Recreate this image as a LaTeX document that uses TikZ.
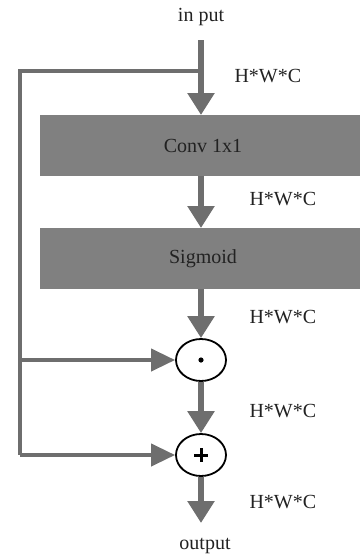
\documentclass[tikz,border=0pt]{standalone}
\usepackage{fontspec}
\setmainfont{Liberation Serif}
\usetikzlibrary{arrows.meta,shapes.geometric,calc}
\definecolor{flow}{HTML}{6E6E6E}
\definecolor{blockgray}{HTML}{808080}
\definecolor{ink}{HTML}{222222}
\begin{document}
\begin{tikzpicture}[x=1pt,y=-1pt,
  every node/.style={font=\fontsize{20}{24}\selectfont, text=ink},
  flowline/.style={draw=flow, line width=6pt,
    -{Triangle[width=26pt,length=22pt]}},
  skipline/.style={draw=flow, line width=4pt, line join=miter},
  skiparrow/.style={skipline, -{Triangle[width=22pt,length=24pt]}},
  block/.style={fill=blockgray, minimum width=320pt, minimum height=61pt,
    inner sep=0pt, anchor=north west},
  opnode/.style={ellipse, draw=black, line width=1.8pt, fill=white,
    minimum width=50pt, minimum height=42pt, inner sep=0pt},
  dimlabel/.style={anchor=west}]
  \useasboundingbox (0,0) rectangle (360,558);

  % blocks
  \node[block] (conv) at (40,115) {};
  \node at (203,146) (convtxt) {Conv 1x1};
  \node[block] (sig) at (40,228) {};
  \node at (203,259) (sigtxt) {Sigmoid};

  % element-wise operators
  \node[opnode] (mul) at (201,360) {};
  \node[opnode] (add) at (201,455) {};
  \fill[black] (mul.center) circle (2.6pt);
  \draw[black, line width=3pt] ($(add.center)+(-7,0)$) -- ($(add.center)+(7,0)$)
    ($(add.center)+(0,-7)$) -- ($(add.center)+(0,7)$);

  % texts
  \node (in) at (201,17) {in put};
  \node (out) at (205,546) {output};
  \node[dimlabel] (l1) at (231,76) {H*W*C};
  \node[dimlabel] (l2) at (246,199) {H*W*C};
  \node[dimlabel] (l3) at (246,317) {H*W*C};
  \node[dimlabel] (l4) at (246,411) {H*W*C};
  \node[dimlabel] (l5) at (246,502) {H*W*C};

  % main path
  \coordinate (src) at (201,40);
  \coordinate (split) at (201,71);
  \coordinate (skip) at (20,71);
  \coordinate (sink) at (201,523);
  \draw[flowline] (src) -- (conv.north -| src);
  \draw[flowline] (conv.south -| src) -- (sig.north -| src);
  \draw[flowline] (sig.south -| src) -- (mul.north);
  \draw[flowline] (mul.south) -- (add.north);
  \draw[flowline] (add.south) -- (sink);

  % skip connection
  \draw[skipline] (split) -- (skip) -- (skip |- add.west);
  \draw[skiparrow] (skip |- mul.west) -- (mul.west);
  \draw[skiparrow] (skip |- add.west) -- (add.west);
\end{tikzpicture}
\end{document}
